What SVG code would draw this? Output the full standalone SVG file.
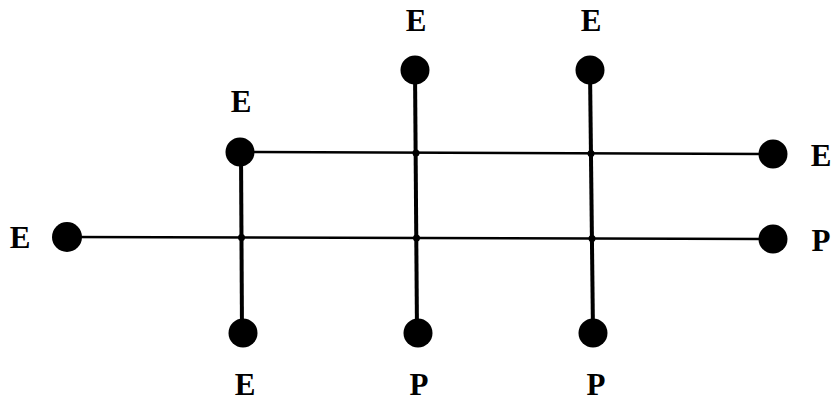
<svg xmlns="http://www.w3.org/2000/svg" width="833" height="403" viewBox="0 0 833 403">
<style>
.n{fill:#000}
.j{fill:#000}
.t{font-family:"Liberation Serif","Times New Roman",serif;font-weight:bold;font-size:31px;fill:#000;text-anchor:middle}
.h{stroke:#000;stroke-width:2.5;fill:none}
.v{stroke:#000;stroke-width:4;fill:none}
</style>
<rect width="833" height="403" fill="#fff"/>
<g id="connectors">
<path class="h" d="M240 152 L773 154"/>
<path class="h" d="M67 237 L773 239"/>
<path class="v" d="M241 152 L242 333"/>
<path class="v" d="M415 70 L417 333"/>
<path class="v" d="M590 70 L593 333"/>
<circle class="j" cx="416" cy="153" r="3.5"/>
<circle class="j" cx="591" cy="153.5" r="3.5"/>
<circle class="j" cx="241.5" cy="237.5" r="3.5"/>
<circle class="j" cx="416.5" cy="238" r="3.5"/>
<circle class="j" cx="592" cy="238.5" r="3.5"/>
</g>
<g id="n1"><circle class="n" cx="67" cy="237" r="15"/><text class="t" x="20" y="248">E</text></g>
<g id="n2"><circle class="n" cx="240" cy="152" r="14.5"/><text class="t" x="241" y="112">E</text></g>
<g id="n3"><circle class="n" cx="415" cy="70" r="14.5"/><text class="t" x="416" y="31">E</text></g>
<g id="n4"><circle class="n" cx="590" cy="70" r="14.5"/><text class="t" x="591" y="31">E</text></g>
<g id="n5"><circle class="n" cx="773" cy="154" r="14.5"/><text class="t" x="821" y="166">E</text></g>
<g id="n6"><circle class="n" cx="773" cy="239" r="14.5"/><text class="t" x="821" y="251">P</text></g>
<g id="n7"><circle class="n" cx="243" cy="333" r="14.5"/><text class="t" x="245" y="395">E</text></g>
<g id="n8"><circle class="n" cx="418" cy="333" r="14.5"/><text class="t" x="419" y="395">P</text></g>
<g id="n9"><circle class="n" cx="593" cy="333" r="14.5"/><text class="t" x="596" y="395">P</text></g>
</svg>
